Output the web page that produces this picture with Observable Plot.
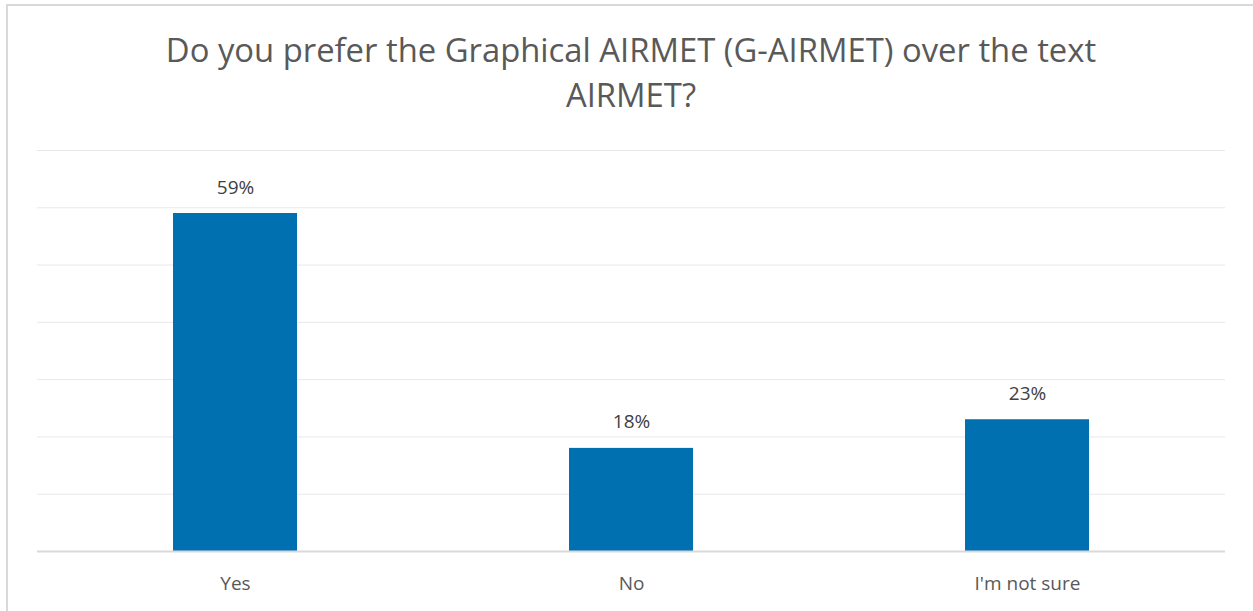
<!DOCTYPE html>
<html>
<head>
<meta charset="utf-8">
<script src="https://cdn.jsdelivr.net/npm/d3@7"></script>
<script src="https://cdn.jsdelivr.net/npm/@observablehq/plot@0.6"></script>
<style>
  html, body { margin: 0; padding: 0; background: #fff; }
  #wrap { position: relative; width: 1253px; height: 611px; overflow: hidden; font-family: "Open Sans", sans-serif; }
  #frame { position: absolute; left: 6px; top: 4px; width: 1300px; height: 700px; border-left: 2px solid #d9d9d9; border-top: 2px solid #d9d9d9; }
  #title { position: absolute; left: 131px; width: 1000px; top: 27px; text-align: center; font-size: 32.8px; line-height: 45px; color: #595959; }
  #chart { position: absolute; left: 0; top: 130px; }
</style>
</head>
<body>
<div id="wrap">
  <div id="frame"></div>
  <div id="title">Do you prefer the Graphical AIRMET (G-AIRMET) over the text AIRMET?</div>
  <div id="chart"></div>
</div>
<script>
const categories = ["Yes", "No", "I'm not sure"];
const values = [59, 18, 23];
const labels = ["59%", "18%", "23%"];
const yTicks = [0, 10, 20, 30, 40, 50, 60, 70];

const data = categories.map((c, i) => ({category: c, value: values[i], label: labels[i]}));

const chart = Plot.plot({
  width: 1253,
  height: 481,
  marginTop: 20,
  marginBottom: 60,
  marginLeft: 37,
  marginRight: 28,
  style: {fontFamily: "Open Sans, sans-serif", fontSize: "19px", color: "#595959", background: "transparent"},
  x: {domain: categories, paddingInner: 0.687, paddingOuter: 0.3435, align: 0.5, label: null},
  y: {domain: [0, 70], ticks: yTicks, label: null, axis: null},
  marks: [
    Plot.gridY(yTicks.filter(d => d > 0), {stroke: "#e8e8e8", strokeOpacity: 1, strokeWidth: 1}),
    Plot.barY(data, {x: "category", y: "value", fill: "#0070b0"}),
    Plot.ruleY([0], {stroke: "#d9d9d9", strokeWidth: 2}),
    Plot.text(data, {x: "category", y: "value", text: "label", dy: -26, fill: "#404040", fontSize: 19}),
    Plot.axisX({tickSize: 0, tickPadding: 25, fontSize: 19, fill: "#595959", label: null})
  ]
});
document.getElementById("chart").appendChild(chart);
</script>
</body>
</html>
